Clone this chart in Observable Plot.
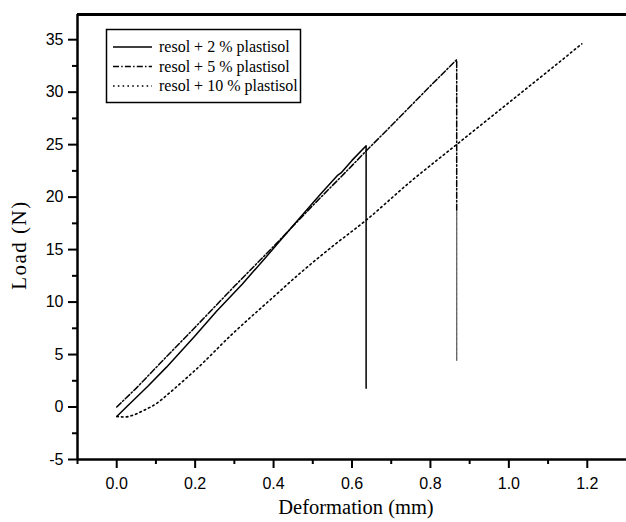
<!DOCTYPE html>
<html><head><meta charset="utf-8">
<script src="https://cdn.jsdelivr.net/npm/d3@7"></script>
<script src="https://cdn.jsdelivr.net/npm/@observablehq/plot@0.6"></script>
<style>
body{margin:0;background:#fff}
#wrap{position:relative;width:626px;height:522px;background:#fff}
#overlay{position:absolute;left:0;top:0;pointer-events:none}
</style>
</head><body><div id="wrap"></div>
<script>
// Series: resol + 2 % plastisol (solid)
const x2 = [0, 0.03, 0.08, 0.127, 0.2, 0.254, 0.32, 0.381, 0.45, 0.52, 0.564, 0.572, 0.6, 0.636, 0.636];
const y2 = [-0.9, 0.2, 2.0, 3.8, 6.8, 9.1, 11.7, 14.3, 17.3, 20.3, 22.1, 22.3, 23.5, 24.9, 1.8];
// Series: resol + 5 % plastisol (dash-dot)
const x5 = [0, 0.05, 0.127, 0.2, 0.3, 0.4, 0.5, 0.6, 0.636, 0.7, 0.8, 0.867, 0.867];
const y5 = [0, 1.8, 4.8, 7.6, 11.5, 15.3, 19.2, 23.0, 24.4, 26.8, 30.6, 33.1, 18.6];
// faint lower part of the 5 % drop
const x5b = [0.867, 0.867];
const y5b = [18.6, 4.45];
// Series: resol + 10 % plastisol (dotted)
const x10 = [0, 0.02, 0.04, 0.07, 0.1, 0.13, 0.17, 0.2, 0.296, 0.4, 0.466, 0.55, 0.636, 0.75, 0.87, 1.0, 1.1, 1.186];
const y10 = [-0.9, -0.95, -0.8, -0.3, 0.3, 1.2, 2.5, 3.5, 7.0, 10.5, 12.7, 15.3, 17.8, 21.5, 25.1, 29.0, 32.0, 34.6];

const seriesNames = ["resol + 2 % plastisol", "resol + 5 % plastisol", "resol + 10 % plastisol"];
const xTicks = [0, 0.2, 0.4, 0.6, 0.8, 1.0, 1.2];
const xMinor = [-0.1, 0.1, 0.3, 0.5, 0.7, 0.9, 1.1];
const yTicks = [-5, 0, 5, 10, 15, 20, 25, 30, 35];
const yMinor = [-2.5, 2.5, 7.5, 12.5, 17.5, 22.5, 27.5, 32.5];
const xTitle = "Deformation (mm)";
const yTitle = "Load (N)";

const toRows = (xs, ys) => xs.map((x, i) => ({x, y: ys[i]}));
const d2 = toRows(x2, y2), d5 = toRows(x5, y5), d5b = toRows(x5b, y5b), d10 = toRows(x10, y10);

const serif = "'Liberation Serif', 'Times New Roman', serif";
const dashes = [null, "6,2.2,1.5,2.2", "1.6,3.2"];

const chart = Plot.plot({
  width: 626, height: 522,
  marginLeft: 77, marginRight: 0, marginTop: 14, marginBottom: 63,
  x: {domain: [-0.1, 1.3]},
  y: {domain: [-5, 37.4]},
  style: {fontFamily: "'Liberation Sans', Arial, sans-serif", fontSize: "16px", color: "#000", background: "#fff"},
  marks: [
    Plot.axisX(xTicks, {tickSize: 9, tickPadding: 9, tickFormat: d3.format(".1f"), strokeWidth: 2, label: null}),
    Plot.axisX(xMinor, {tickSize: 5, text: null, strokeWidth: 2, label: null}),
    Plot.axisY(yTicks, {tickSize: 9, tickPadding: 5, tickFormat: d => String(d), strokeWidth: 2, label: null}),
    Plot.axisY(yMinor, {tickSize: 5, text: null, strokeWidth: 2, label: null}),
    Plot.ruleX([-0.1], {strokeWidth: 2.5}),
    Plot.ruleY([-5], {strokeWidth: 2.5}),
    Plot.ruleY([37.4], {strokeWidth: 3}),
    Plot.line(d10, {x: "x", y: "y", strokeWidth: 1.6, strokeDasharray: dashes[2], curve: "monotone-x"}),
    Plot.line(d5b, {x: "x", y: "y", strokeWidth: 1.4, stroke: "#666", strokeDasharray: "4,1"}),
    Plot.line(d5, {x: "x", y: "y", strokeWidth: 1.5, strokeDasharray: dashes[1]}),
    Plot.line(d2, {x: "x", y: "y", strokeWidth: 1.5})
  ]
});
const wrap = document.getElementById("wrap");
wrap.appendChild(chart);

// overlay: axis titles and legend
const ov = d3.select(wrap).append("svg").attr("id", "overlay").attr("width", 626).attr("height", 522);
ov.append("text").attr("x", 356).attr("y", 514).attr("text-anchor", "middle")
  .attr("font-family", serif).attr("font-size", 20.5).attr("fill", "#000").text(xTitle);
ov.append("text").attr("transform", "translate(26,245) rotate(-90)").attr("text-anchor", "middle")
  .attr("font-family", serif).attr("font-size", 21).attr("letter-spacing", 1.5).attr("fill", "#000").text(yTitle);

ov.append("rect").attr("x", 106.5).attr("y", 29.5).attr("width", 194).attr("height", 73)
  .attr("fill", "#fff").attr("stroke", "#000").attr("stroke-width", 1.5);
const rowsY = [47, 66.5, 86];
seriesNames.forEach((name, i) => {
  const l = ov.append("line").attr("x1", 113).attr("x2", 152).attr("y1", rowsY[i]).attr("y2", rowsY[i])
    .attr("stroke", "#000").attr("stroke-width", 1.5);
  if (dashes[i]) l.attr("stroke-dasharray", dashes[i]);
  ov.append("text").attr("x", 159).attr("y", rowsY[i] + 5).text(name)
    .attr("font-family", serif).attr("font-size", 16).attr("fill", "#000");
});
</script>
</body></html>
